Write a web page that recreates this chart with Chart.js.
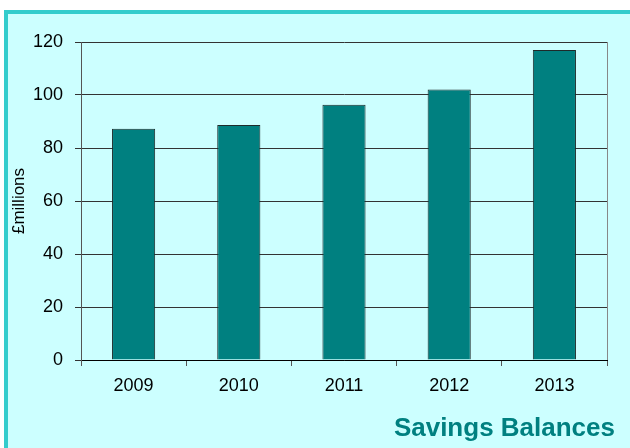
<!DOCTYPE html>
<html>
<head>
<meta charset="utf-8">
<title>Savings Balances</title>
<script src="https://cdn.jsdelivr.net/npm/chart.js@4/dist/chart.umd.min.js"></script>
<style>
    html, body { margin: 0; padding: 0; background: #ffffff; }
    canvas { display: block; }
</style>
</head>
<body>
<canvas id="savings-chart" width="630" height="448"></canvas>
<script>
// Savings balances by year (£ millions)
const years = ['2009', '2010', '2011', '2012', '2013'];
const balances = [87.3, 88.7, 96.3, 102.1, 117.0];
const yTicks = [0, 20, 40, 60, 80, 100, 120];

const FONT = "'Liberation Sans', Arial, sans-serif";
const TEAL = '#008080';

// Light cyan panel with a thicker border on the top and left
const panelPlugin = {
    id: 'panel',
    beforeDraw(chart) {
        const ctx = chart.ctx;
        ctx.save();
        ctx.fillStyle = '#ffffff';
        ctx.fillRect(0, 0, chart.width, chart.height);
        ctx.fillStyle = '#ccffff';
        ctx.fillRect(4, 10, chart.width - 4, chart.height - 10);
        ctx.fillStyle = '#33cccc';
        ctx.fillRect(4, 10, chart.width - 4, 4);
        ctx.fillRect(4, 10, 4, chart.height - 10);
        ctx.restore();
    },
    afterDraw(chart) {
        const ctx = chart.ctx;
        const area = chart.chartArea;
        ctx.save();
        // right edge of the plot area
        ctx.strokeStyle = '#888888';
        ctx.lineWidth = 1;
        ctx.beginPath();
        ctx.moveTo(Math.round(area.right) + 0.5, area.top);
        ctx.lineTo(Math.round(area.right) + 0.5, area.bottom);
        ctx.stroke();
        // caption in the bottom right corner
        ctx.fillStyle = TEAL;
        ctx.font = 'bold 26px ' + FONT;
        ctx.textAlign = 'right';
        ctx.textBaseline = 'alphabetic';
        ctx.fillText('Savings Balances', 615, 436);
        ctx.restore();
    }
};

function createSavingsChart() {
    const ctx = document.getElementById('savings-chart');
    new Chart(ctx, {
        type: 'bar',
        data: {
            labels: years,
            datasets: [{
                data: balances,
                backgroundColor: TEAL,
                borderColor: '#1e2a2a',
                borderWidth: 1,
                categoryPercentage: 1,
                barPercentage: 0.41
            }]
        },
        options: {
            responsive: false,
            animation: false,
            layout: {
                padding: { left: 0, top: 42, right: 23, bottom: 0 }
            },
            plugins: {
                legend: { display: false },
                title: { display: false },
                tooltip: { enabled: false }
            },
            scales: {
                x: {
                    grid: {
                        offset: true,
                        drawOnChartArea: false,
                        drawTicks: true,
                        tickLength: 6,
                        color: '#555555'
                    },
                    border: { color: '#000000', width: 1 },
                    ticks: {
                        color: '#000000',
                        font: { family: FONT, size: 18 },
                        padding: 9,
                        maxRotation: 0
                    },
                    afterFit(scale) { scale.height = 88; }
                },
                y: {
                    min: 0,
                    max: 120,
                    afterBuildTicks(scale) {
                        scale.ticks = yTicks.map(v => ({ value: v }));
                    },
                    grid: {
                        color: '#333333',
                        lineWidth: 1,
                        drawTicks: true,
                        tickLength: 6
                    },
                    border: { color: '#555555', width: 1 },
                    ticks: {
                        color: '#000000',
                        font: { family: FONT, size: 18 },
                        padding: 12
                    },
                    title: {
                        display: true,
                        text: '£millions',
                        color: '#000000',
                        font: { family: FONT, size: 17 },
                        padding: { top: 9, bottom: 0 }
                    },
                    afterFit(scale) { scale.width = 81; }
                }
            }
        },
        plugins: [panelPlugin]
    });
}

createSavingsChart();
</script>
</body>
</html>
